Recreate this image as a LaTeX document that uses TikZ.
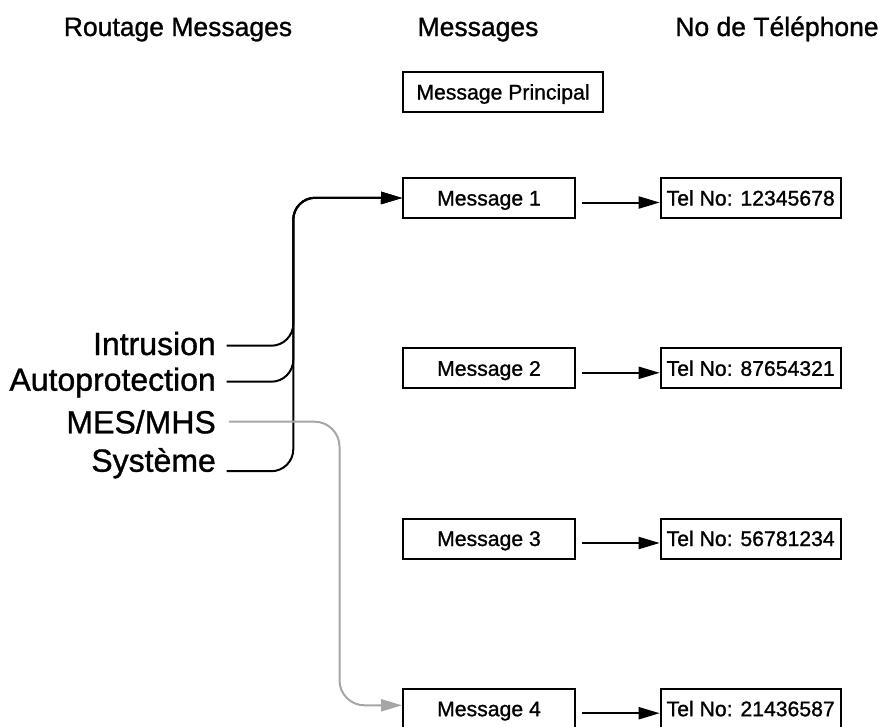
\documentclass[tikz,border=0pt]{standalone}
\usepackage{fontspec}
\setmainfont[FakeBold=1.1]{Liberation Sans}
\usetikzlibrary{arrows.meta}
\definecolor{linegray}{HTML}{A6A6A6}
\tikzset{
  header/.style={anchor=base, inner sep=0pt, font=\fontsize{26.5pt}{30pt}\selectfont},
  srclabel/.style={anchor=base east, inner sep=0pt, font=\fontsize{32pt}{36pt}\selectfont},
  msgbox/.style={draw, line width=2pt, inner sep=0pt, minimum height=40pt, minimum width=172pt,
     text height=15pt, text depth=0pt, font=\fontsize{21.2pt}{24pt}\selectfont},
  telbox/.style={msgbox, minimum width=180pt},
  mainbox/.style={msgbox, minimum width=200pt},
  arr/.style={line width=2pt, -{Triangle[length=21pt,width=12pt]}},
  route/.style={arr, rounded corners=22pt},
  grayroute/.style={route, draw=linegray, rounded corners=25pt}
}
\begin{document}
\begin{tikzpicture}[x=1pt,y=1pt]
\useasboundingbox (0,0) rectangle (878,-726);
% headers
\node[header] (h1) at (178,-36) {Routage Messages};
\node[header] (h2) at (478,-36) {Messages};
\node[header] (h3) at (777,-36) {No de Téléphone};
% boxes
\node[mainbox] (mp) at (503,-92) {Message Principal};
\node[msgbox] (m1) at (489,-198) {Message 1};
\node[msgbox] (m2) at (489,-368.3) {Message 2};
\node[msgbox] (m3) at (489,-538.5) {Message 3};
\node[msgbox] (m4) at (489,-708.7) {Message 4};
\node[telbox] (t1) at (750.7,-198) {Tel No: 12345678};
\node[telbox] (t2) at (750.7,-368.3) {Tel No: 87654321};
\node[telbox] (t3) at (750.7,-538.5) {Tel No: 56781234};
\node[telbox] (t4) at (750.7,-708.7) {Tel No: 21436587};
% outgoing arrows
\foreach \i in {1,2,3,4}{
  \draw[arr] ([xshift=6pt,yshift=-4.5pt]m\i.east) -- ([yshift=-4.5pt]t\i.west);
}
% source labels
\node[srclabel] (lin) at (216,-355) {Intrusion};
\node[srclabel] (lau) at (216,-390.7) {Autoprotection};
\node[srclabel] (lme) at (216,-433.3) {MES/MHS};
\node[srclabel] (lsy) at (216,-471.7) {Système};
\coordinate (cin) at (226.7,-345.7);
\coordinate (cau) at (226.5,-381.7);
\coordinate (cme) at (229,-421.7);
\coordinate (csy) at (226.5,-471.2);
% routes
\draw[route] (cin) -- (293.3,-345.7) -- (293.3,-197.7) -- (m1.west);
\draw[route] (cau) -- (293.3,-381.7) -- (293.3,-197.7) -- (m1.west);
\draw[route] (csy) -- (293.3,-471.2) -- (293.3,-197.7) -- (m1.west);
\draw[grayroute] (cme) -- (339.5,-421.7) -- (339.5,-705.3) -- ([yshift=3.4pt]m4.west);
\end{tikzpicture}
\end{document}
